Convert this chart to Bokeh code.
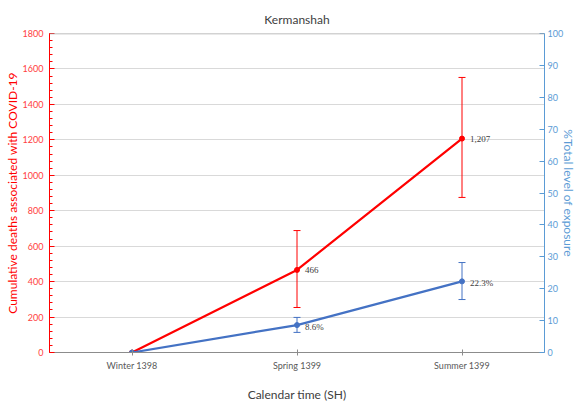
from bokeh.plotting import figure
from bokeh.models import (FactorRange, Range1d, LinearAxis, ColumnDataSource, Whisker,
                          TeeHead, LabelSet, Span, SingleIntervalTicker)
from bokeh.embed import file_html
from bokeh.resources import INLINE

# ---- data ----
categories = ["Winter 1398", "Spring 1399", "Summer 1399"]
deaths = [0, 466, 1207]
deaths_upper = [None, 688, 1552]
deaths_lower = [None, 254, 875]
deaths_labels = ["", "466", "1,207"]
exposure = [0, 8.6, 22.3]
exposure_upper = [None, 11.0, 28.2]
exposure_lower = [None, 6.3, 16.6]
exposure_labels = ["", "8.6%", "22.3%"]

FONT = "Lato"
RED = "#ff0000"
BLUE = "#4472c4"
AXBLUE = "#5b9bd5"
GRAY = "#595959"

p = figure(x_range=FactorRange(factors=categories), y_range=Range1d(0, 1800),
           width=579, height=404, output_backend="svg", toolbar_location=None,
           title="Kermanshah", min_border_left=49, min_border_right=34,
           min_border_top=33, min_border_bottom=52)
p.extra_y_ranges = {"pct": Range1d(0, 100)}

p.title.align = "center"
p.title.text_font = FONT
p.title.text_font_size = "12px"
p.title.text_font_style = "normal"
p.title.text_color = "#404040"
p.title.standoff = 14
p.outline_line_color = None
p.background_fill_color = "white"
p.border_fill_color = "white"

# grid
p.xgrid.grid_line_color = None
p.ygrid.grid_line_color = "#d9d9d9"
p.ygrid.grid_line_width = 1
p.ygrid.ticker = SingleIntervalTicker(interval=200)

# left axis
la = p.yaxis[0]
la.ticker = SingleIntervalTicker(interval=200, num_minor_ticks=5)
la.axis_line_color = RED
la.major_tick_line_color = RED
la.minor_tick_line_color = RED
la.major_tick_in = 5
la.major_tick_out = 0
la.minor_tick_in = 3
la.minor_tick_out = 0
la.major_label_text_color = "#ff4040"
la.major_label_text_font = FONT
la.major_label_text_font_size = "9px"
la.major_label_standoff = 6
la.axis_label = "Cumulative deaths associated with COVID-19"
la.axis_label_text_color = RED
la.axis_label_text_font = FONT
la.axis_label_text_font_size = "12px"
la.axis_label_text_font_style = "normal"
la.axis_label_standoff = 0

# right axis
ra = LinearAxis(y_range_name="pct", ticker=SingleIntervalTicker(interval=10, num_minor_ticks=0))
ra.axis_line_color = AXBLUE
ra.major_tick_line_color = AXBLUE
ra.minor_tick_line_color = None
ra.major_tick_in = 5
ra.major_tick_out = 0
ra.major_label_text_color = AXBLUE
ra.major_label_text_font = FONT
ra.major_label_text_font_size = "9px"
ra.major_label_standoff = 3
ra.axis_label = "%Total level of exposure"
ra.axis_label_text_color = AXBLUE
ra.axis_label_text_font = FONT
ra.axis_label_text_font_size = "12px"
ra.axis_label_text_font_style = "normal"
ra.axis_label_standoff = -5
p.add_layout(ra, "right")

# bottom axis
xa = p.xaxis[0]
xa.axis_line_color = "#8c8c8c"
xa.major_tick_line_color = "#8c8c8c"
xa.major_tick_in = 3
xa.major_tick_out = 3
xa.major_label_text_color = GRAY
xa.major_label_text_font = FONT
xa.major_label_text_font_size = "9px"
xa.major_label_standoff = 4
xa.axis_label = "Calendar time (SH)"
xa.axis_label_text_color = "#404040"
xa.axis_label_text_font = FONT
xa.axis_label_text_font_size = "12px"
xa.axis_label_text_font_style = "normal"
xa.axis_label_standoff = 13

# top border line
p.add_layout(Span(location=1800, dimension="width", line_color="#a6a6a6", line_width=1.5))

# sources
src_d = ColumnDataSource(dict(x=categories, y=deaths, lab=deaths_labels))
src_e = ColumnDataSource(dict(x=categories, y=exposure, lab=exposure_labels))
wd = ColumnDataSource(dict(x=categories[1:], up=deaths_upper[1:], lo=deaths_lower[1:]))
we = ColumnDataSource(dict(x=categories[1:], up=exposure_upper[1:], lo=exposure_lower[1:]))

# error bars
p.add_layout(Whisker(source=wd, base="x", upper="up", lower="lo", line_color=RED, line_width=1,
                     upper_head=TeeHead(size=7, line_color=RED, line_width=1),
                     lower_head=TeeHead(size=7, line_color=RED, line_width=1)))
p.add_layout(Whisker(source=we, base="x", upper="up", lower="lo", y_range_name="pct",
                     line_color=BLUE, line_width=1,
                     upper_head=TeeHead(size=7, line_color=BLUE, line_width=1),
                     lower_head=TeeHead(size=7, line_color=BLUE, line_width=1)))

# lines
p.line("x", "y", source=src_d, line_color=RED, line_width=2.2)
p.scatter("x", "y", source=src_d, size=5, color=RED)
p.line("x", "y", source=src_e, line_color=BLUE, line_width=2.2, y_range_name="pct")
p.scatter("x", "y", source=src_e, size=5, color=BLUE, y_range_name="pct")

# data labels
p.add_layout(LabelSet(x="x", y="y", text="lab", source=src_d, x_offset=8,
                      text_baseline="middle", text_font=FONT, text_font_size="9px",
                      text_color="#404040"))
p.add_layout(LabelSet(x="x", y="y", text="lab", source=src_e, x_offset=8, y_offset=-2,
                      y_range_name="pct", text_baseline="middle", text_font=FONT,
                      text_font_size="9px", text_color="#404040"))

open("out.html", "w").write(file_html(p, INLINE))
